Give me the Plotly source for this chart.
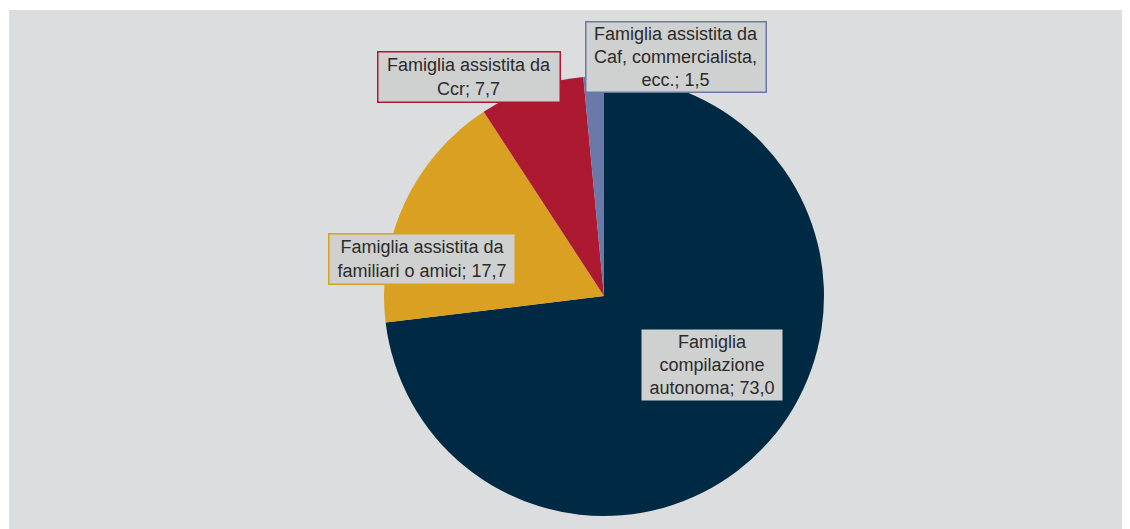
import plotly.graph_objects as go

labels = ["Famiglia compilazione autonoma", "Famiglia assistita da familiari o amici",
          "Famiglia assistita da Ccr", "Famiglia assistita da Caf, commercialista, ecc."]
values = [73.0, 17.7, 7.7, 1.5]
label_lines = [["Famiglia", "compilazione", "autonoma; {v}"],
               ["Famiglia assistita da", "familiari o amici; {v}"],
               ["Famiglia assistita da", "Ccr; {v}"],
               ["Famiglia assistita da", "Caf, commercialista,", "ecc.; {v}"]]
colors = ["#002A44", "#D9A021", "#AD1931", "#6B79A8"]

# page body offset of the figure inside the browser window
OFF = 8
W, H = 1130 - OFF, 529 - OFF
ML, MR, MT, MB = 9 - OFF, 5, 10 - OFF, 0
PW, PH = W - ML - MR, H - MT - MB

def px(x):
    return (x - OFF - ML) / PW

def py(y):
    return (H - MB - (y - OFF)) / PH

cx, cy, r = 604, 296, 220

fig = go.Figure(go.Pie(
    labels=labels, values=values, sort=False, direction="clockwise", rotation=0,
    marker=dict(colors=colors, line=dict(width=0)),
    textinfo="none", hoverinfo="label+value", showlegend=False,
    domain=dict(x=[px(cx - r - 100), px(cx + r + 100)], y=[py(cy + r), py(cy - r)]),
))

# label boxes: (left, top, right, bottom) in window pixels
boxes = [(640, 328, 783, 401), (328, 233, 515, 284), (377, 52, 560, 103), (585, 22, 766, 93)]
PAD = 2

def fmt(v):
    return f"{v:.1f}".replace(".", ",")

for lines, v, col, (x0, y0, x1, y1) in zip(label_lines, values, colors, boxes):
    text = "<br>".join(lines).replace("{v}", fmt(v))
    fig.add_annotation(
        x=px((x0 + x1) / 2), y=py((y0 + y1) / 2), xref="paper", yref="paper",
        text=text, showarrow=False,
        width=x1 - x0 - 2 * PAD - 2, height=y1 - y0 - 2 * PAD - 2,
        font=dict(family="Liberation Sans, Arial, sans-serif", size=18, color="#2b2b2b"),
        bgcolor="#CFD0D0", bordercolor=col, borderwidth=1.5, borderpad=PAD,
        xanchor="center", yanchor="middle", align="center", valign="middle",
    )

fig.add_shape(type="rect", xref="paper", yref="paper", x0=0, x1=1, y0=0, y1=1,
              fillcolor="#DCDDDE", line=dict(width=0), layer="below")

fig.update_layout(
    width=W, height=H, margin=dict(l=ML, r=MR, t=MT, b=MB),
    paper_bgcolor="white", plot_bgcolor="#DCDDDE",
)
fig.write_html("out.html")
